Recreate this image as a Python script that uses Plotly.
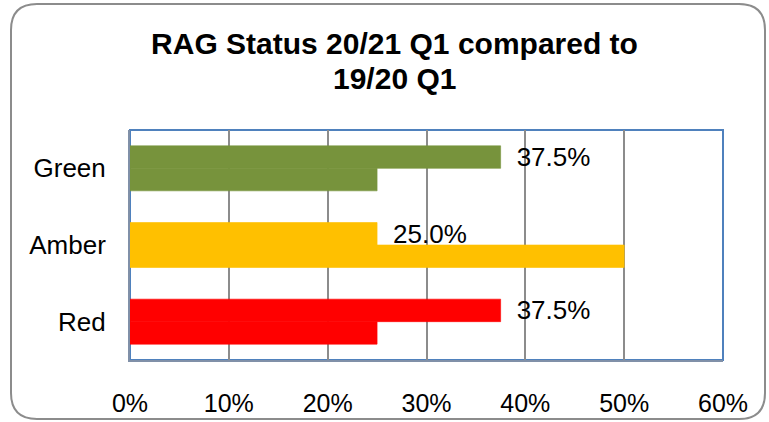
import plotly.graph_objects as go

categories = ["Red", "Amber", "Green"]
q1_1920 = [0.25, 0.50, 0.25]
q1_2021 = [0.375, 0.25, 0.375]
bar_colors = ["#FF0000", "#FFC000", "#77933C"]
x_ticks = [0, 0.1, 0.2, 0.3, 0.4, 0.5, 0.6]
title_line1 = "RAG Status 20/21 Q1 compared to"
title_line2 = "19/20 Q1"

W, H = 769, 422
ML, MR, MT, MB = 130, 46, 130, 62
PW, PH = W - ML - MR, H - MT - MB

FONT = "Liberation Sans, Arial, sans-serif"

fig = go.Figure()
fig.add_trace(go.Bar(
    y=categories, x=q1_1920, orientation="h", name="19/20 Q1",
    marker=dict(color=bar_colors, line=dict(width=0.6, color=bar_colors)),
))
fig.add_trace(go.Bar(
    y=categories, x=q1_2021, orientation="h", name="20/21 Q1",
    marker=dict(color=bar_colors, line=dict(width=0.6, color=bar_colors)),
    texttemplate="\u2002%{x:.1%}", textposition="outside",
    constraintext="none",
    textfont=dict(family=FONT, size=26, color="#000000"),
    cliponaxis=False,
))


def px2paper(X, Y):
    return (X - ML) / PW, (MT + PH - Y) / PH


L, R, T, B, r = 11, 765, 4, 419, 26
pts = [
    ("M", [(L, T + r)]), ("Q", [(L, T), (L + r, T)]), ("L", [(R - r, T)]),
    ("Q", [(R, T), (R, T + r)]), ("L", [(R, B - r)]), ("Q", [(R, B), (R - r, B)]),
    ("L", [(L + r, B)]), ("Q", [(L, B), (L, B - r)]),
]
path = ""
for cmd, ps in pts:
    path += cmd + " ".join("%.5f,%.5f" % px2paper(x, y) for x, y in ps) + " "
path += "Z"

title_cx = 394.5
l2x, l2y = px2paper(title_cx, 78)

fig.update_layout(
    width=W, height=H,
    margin=dict(l=ML, r=MR, t=MT, b=MB, pad=0, autoexpand=False),
    paper_bgcolor="white", plot_bgcolor="white",
    showlegend=False,
    barmode="group", bargap=0.413, bargroupgap=0,
    font=dict(family=FONT, size=25, color="#000000"),
    title=dict(
        text="<b>" + title_line1 + "</b>",
        x=title_cx / W, xanchor="center", xref="container",
        y=1 - 43 / H, yanchor="middle", yref="container",
        font=dict(family=FONT, size=30, color="#000000"),
    ),
    annotations=[
        dict(text="<b>" + title_line2 + "</b>", xref="paper", yref="paper",
             x=l2x, y=l2y, xanchor="center", yanchor="middle", showarrow=False,
             font=dict(family=FONT, size=30, color="#000000")),
    ],
    xaxis=dict(
        range=[0, 0.6], tickvals=x_ticks, tickformat=".0%",
        showgrid=True, gridcolor="#8C8C8C", gridwidth=2,
        zeroline=False, showline=True, linecolor="#8090A8", linewidth=2,
        ticks="", ticklabelstandoff=20, automargin=False,
        tickfont=dict(family=FONT, size=25, color="#000000"),
        fixedrange=True,
    ),
    yaxis=dict(
        categoryorder="array", categoryarray=categories,
        showgrid=False, zeroline=False, showline=True,
        linecolor="#8090A8", linewidth=2,
        ticks="", ticklabelstandoff=17, automargin=False,
        tickfont=dict(family=FONT, size=26, color="#000000"),
        fixedrange=True,
    ),
    shapes=[
        dict(type="rect", xref="paper", yref="paper", x0=0, x1=1, y0=0, y1=1,
             line=dict(color="#4F81BD", width=2), fillcolor="rgba(0,0,0,0)",
             layer="below"),
        dict(type="path", xref="paper", yref="paper", path=path,
             line=dict(color="#8C8C8C", width=2), fillcolor="rgba(0,0,0,0)",
             layer="above"),
    ],
)

fig.write_html(
    "out.html",
    config={"displayModeBar": False},
    post_script="document.body.style.margin='0';document.body.style.overflow='hidden';",
)
